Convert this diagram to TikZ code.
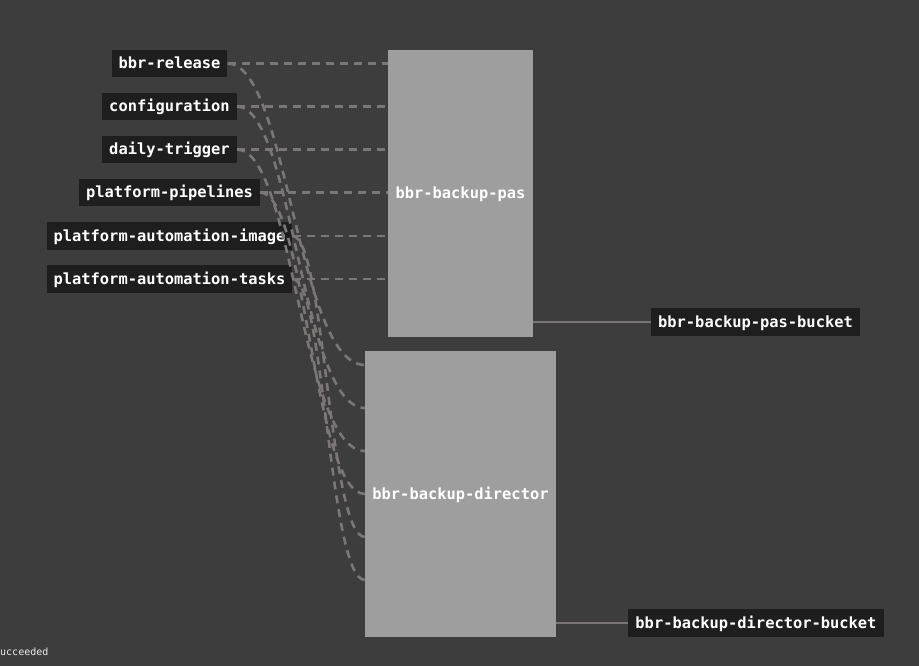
\documentclass[tikz,border=0pt]{standalone}
\usepackage{fontspec}
\newfontfamily\monob{DejaVu Sans Mono Bold}
\newfontfamily\mono{DejaVu Sans Mono}
\definecolor{bgc}{HTML}{3D3D3D}
\definecolor{resc}{HTML}{1E1E1E}
\definecolor{jobc}{HTML}{9E9E9E}
\definecolor{edgec}{HTML}{7C7777}
\definecolor{outc}{HTML}{7A7575}
\tikzset{
  resbox/.style={fill=resc, text=white, inner xsep=7pt, inner ysep=0pt,
    minimum height=27.5pt, text height=12pt, text depth=2pt,
    font=\monob\fontsize{15.4}{18}\selectfont},
  jobbox/.style={fill=jobc, text=white, inner sep=0pt,
    text height=12pt, text depth=2pt,
    font=\monob\fontsize{15.4}{18}\selectfont},
  inedge/.style={draw=edgec, line width=2.6pt, dash pattern=on 8pt off 6pt},
  outedge/.style={draw=outc, line width=2.2pt},
}
\begin{document}
\begin{tikzpicture}[x=1pt,y=-1pt]
\fill[bgc] (0,0) rectangle (919,666);
\useasboundingbox (0,0) rectangle (919,666);

% jobs
\node[jobbox, minimum width=145pt, minimum height=287pt] (pas) at (460.5,193.5) {bbr-backup-pas};
\node[jobbox, minimum width=191pt, minimum height=286pt] (dir) at (460.5,494) {bbr-backup-director};

% resources
\node[resbox] (r1) at (169.5,63.5) {bbr-release};
\node[resbox] (r2) at (169.5,106.5) {configuration};
\node[resbox] (r3) at (169.5,149.5) {daily-trigger};
\node[resbox] (r4) at (169.5,192.5) {platform-pipelines};
\node[resbox] (r5) at (169.5,236) {platform-automation-image};
\node[resbox] (r6) at (169.5,279) {platform-automation-tasks};

% outputs
\node[resbox] (pasb) at (755.5,322) {bbr-backup-pas-bucket};
\node[resbox] (dirb) at (756,623) {bbr-backup-director-bucket};

% director input points
\coordinate (d1) at (365,365);
\coordinate (d2) at (365,408);
\coordinate (d3) at (365,451);
\coordinate (d4) at (365,494);
\coordinate (d5) at (365,537);
\coordinate (d6) at (365,580);

% inputs to pas
\foreach \r in {r1,r2,r3,r4,r5,r6}{
  \draw[inedge] (\r.east) -- (\r.east -| pas.west);
}
% inputs to director
\draw[inedge] (r1.east) .. controls +(60,0) and +(-68,0) .. (d1);
\draw[inedge] (r2.east) .. controls +(56,0) and +(-64,0) .. (d2);
\draw[inedge] (r3.east) .. controls +(56,0) and +(-64,0) .. (d3);
\draw[inedge] (r4.east) .. controls +(46,0) and +(-52,0) .. (d4);
\draw[inedge] (r5.east) .. controls +(32,0) and +(-36,0) .. (d5);
\draw[inedge] (r6.east) .. controls +(32,0) and +(-36,0) .. (d6);

% outputs
\draw[outedge] (pasb.west -| pas.east) -- (pasb.west);
\draw[outedge] (dirb.west -| dir.east) -- (dirb.west);

\node[anchor=west, inner sep=0pt, text=white!85!gray, font=\mono\fontsize{10}{12}\selectfont] (st) at (0,652) {ucceeded};
\end{tikzpicture}
\end{document}
